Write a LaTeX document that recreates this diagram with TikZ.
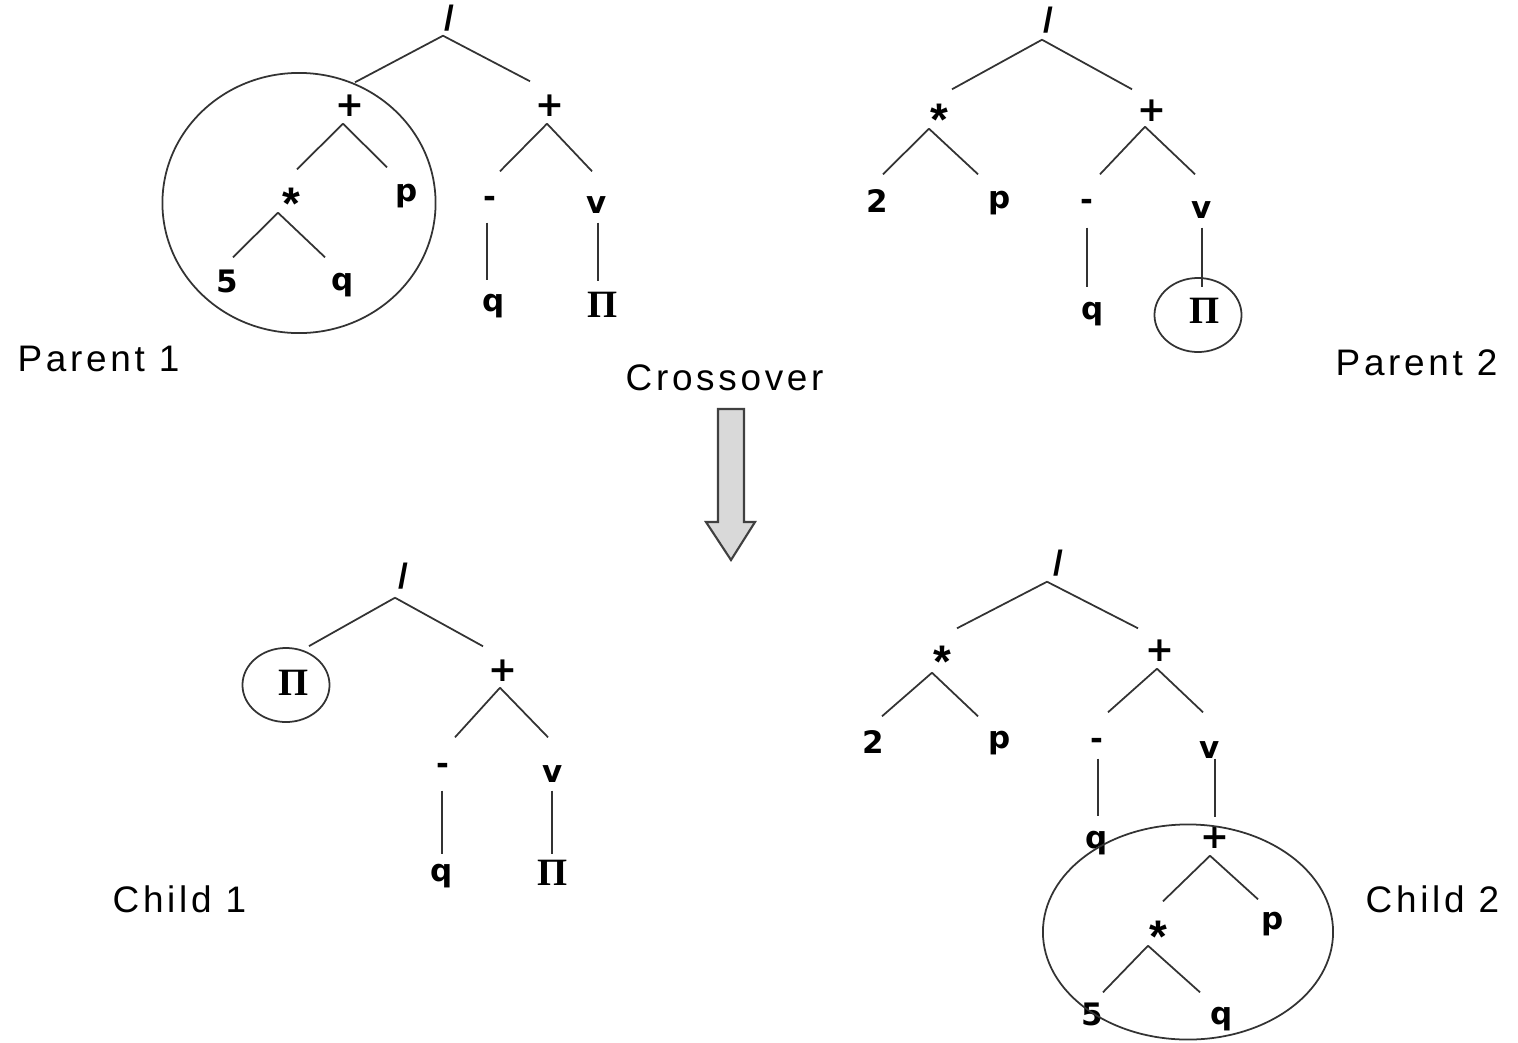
\documentclass[tikz,border=0pt]{standalone}
\usepackage{fontspec}
\setmainfont{Liberation Sans}
\newfontfamily\symfont{DejaVu Sans}
\newfontfamily\captionfont{Liberation Sans}[LetterSpace=10]
\newfontfamily\greekfont{Liberation Serif}
\usetikzlibrary{shapes.geometric}

\tikzset{
  sym/.style={anchor=base, inner xsep=0pt, inner ysep=0.03cm,
    text height=0.30cm, text depth=0.05cm,
    font=\fontsize{8.8}{10}\selectfont\symfont\bfseries},
  plussym/.style={sym, font=\fontsize{9.8}{10}\selectfont\symfont\bfseries},
  slashsym/.style={sym, font=\fontsize{10}{10}\selectfont\rmfamily\bfseries},
  pisym/.style={sym, font=\fontsize{11}{12}\selectfont\greekfont\bfseries},
  caption/.style={anchor=base west, inner sep=0pt,
    font=\fontsize{10.5}{12}\selectfont\captionfont},
  ring/.style={draw=black!80, line width=0.5pt, ellipse, inner sep=0pt},
  branch/.style={draw=black!80, line width=0.5pt},
  bigarrow/.style={draw=black!75, line width=0.6pt, fill=black!15},
}

% a large heavy asterisk, lowered so that it sits like the other symbols
\newcommand\starsym{\raisebox{-0.09cm}{\fontsize{13}{13}\selectfont\rmfamily\bfseries *}}

% branch from the foot of a parent symbol to the top of a child symbol,
% each end nudged by a shift given in pixel units
\newcommand\treelink[4]{\draw[branch] ([shift={#2}]#1.south) -- ([shift={#4}]#3.north);}

\begin{document}
\begin{tikzpicture}[x=0.01cm, y=-0.01cm]
\useasboundingbox (0,0) rectangle (1518,1042);

% ---------------- Parent 1 ----------------
\node[slashsym] (p1root) at (449,30) {/};
\node[plussym] (p1a) at (350,116) {+};
\node[plussym] (p1b) at (550,116) {+};
\node[sym] (p1c) at (291,210) {\starsym};
\node[sym] (p1d) at (407,201) {p};
\node[sym] (p1e) at (227,292) {5};
\node[sym] (p1f) at (343,290) {q};
\node[sym] (p1g) at (490,207) {-};
\node[sym] (p1h) at (597,213) {v};
\node[sym] (p1i) at (494,311) {q};
\node[pisym] (p1j) at (603,317) {Π};
\node[ring, minimum width=2.73cm, minimum height=2.60cm] (p1ring) at (299,203) {};

\treelink{p1root}{(-6,-3)}{p1a}{(5,0)}
\treelink{p1root}{(-6,-3)}{p1b}{(-20,-1)}
\treelink{p1a}{(-7,-1)}{p1c}{(6,-7)}
\treelink{p1a}{(-7,-1)}{p1d}{(-20,0)}
\treelink{p1c}{(-13,-6)}{p1e}{(6,-1)}
\treelink{p1c}{(-13,-6)}{p1f}{(-18,1)}
\treelink{p1b}{(-3,-1)}{p1g}{(10,-2)}
\treelink{p1b}{(-3,-1)}{p1h}{(-5,-8)}
\treelink{p1g}{(-3,7)}{p1i}{(-7,3)}
\treelink{p1h}{(1,1)}{p1j}{(-5,-2)}

\node[caption] (lp1) at (17,371) {Parent 1};

% ---------------- Parent 2 ----------------
\node[slashsym] (p2root) at (1048,32) {/};
\node[sym] (p2a) at (939,126) {\starsym};
\node[plussym] (p2b) at (1152,121) {+};
\node[sym] (p2c) at (877,212) {2};
\node[sym] (p2d) at (1000,208) {p};
\node[sym] (p2e) at (1087,210) {-};
\node[sym] (p2f) at (1202,218) {v};
\node[sym] (p2g) at (1093,319) {q};
\node[pisym] (p2h) at (1205,323) {Π};
\node[ring, minimum width=0.87cm, minimum height=0.74cm] (p2ring) at (1198,315) {};

\treelink{p2root}{(-6,-1)}{p2a}{(13,-3)}
\treelink{p2root}{(-6,-1)}{p2b}{(-20,2)}
\treelink{p2a}{(-10,-6)}{p2c}{(6,-4)}
\treelink{p2a}{(-10,-6)}{p2d}{(-22,0)}
\treelink{p2b}{(-7,-3)}{p2e}{(13,-2)}
\treelink{p2b}{(-7,-3)}{p2f}{(-7,-10)}
\treelink{p2e}{(0,9)}{p2g}{(-6,2)}
\treelink{p2f}{(0,1)}{p2h}{(-3,-2)}

\node[caption] (lp2) at (1335,375) {Parent 2};

% ---------------- crossover arrow ----------------
\node[caption] (lx) at (625,390) {Crossover};
\draw[bigarrow] (718,409) -- (744,409) -- (744,522) -- (755,522)
  -- (731,560) -- (706,522) -- (718,522) -- cycle;

% ---------------- Child 1 ----------------
\node[slashsym] (c1root) at (403,588) {/};
\node[ring, minimum width=0.87cm, minimum height=0.74cm] (c1ring) at (286,685) {};
\node[pisym] (c1pi) at (294,695) {Π};
\node[plussym] (c1b) at (503,681) {+};
\node[sym] (c1c) at (443,774) {-};
\node[sym] (c1d) at (553,782) {v};
\node[sym] (c1e) at (442,881) {q};
\node[pisym] (c1f) at (553,885) {Π};

\draw[branch] ([shift={(-8,1)}]c1root.south) -- ([shift={(23,-1)}]c1ring.north);
\treelink{c1root}{(-8,1)}{c1b}{(-20,-1)}
\treelink{c1b}{(-3,-2)}{c1c}{(12,-3)}
\treelink{c1b}{(-3,-2)}{c1d}{(-5,-11)}
\treelink{c1c}{(-1,8)}{c1e}{(0,7)}
\treelink{c1d}{(-1,0)}{c1f}{(-1,3)}

\node[caption] (lc1) at (112,912) {Child 1};

% ---------------- Child 2 ----------------
\node[slashsym] (c2root) at (1058,575) {/};
\node[sym] (c2a) at (942,668) {\starsym};
\node[plussym] (c2b) at (1160,661) {+};
\node[sym] (c2c) at (873,753) {2};
\node[sym] (c2d) at (1000,748) {p};
\node[sym] (c2e) at (1097,749) {-};
\node[sym] (c2f) at (1210,758) {v};
\node[sym] (c2g) at (1097,848) {q};
\node[plussym] (c2h) at (1215,848) {+};
\node[sym] (c2i) at (1158,943) {\starsym};
\node[sym] (c2j) at (1273,929) {p};
\node[sym] (c2k) at (1092,1025) {5};
\node[sym] (c2l) at (1222,1024) {q};
\node[ring, minimum width=2.90cm, minimum height=2.15cm] (c2ring) at (1188,932) {};

\treelink{c2root}{(-11,-2)}{c2a}{(15,-6)}
\treelink{c2root}{(-11,-2)}{c2b}{(-22,1)}
\treelink{c2a}{(-10,-4)}{c2c}{(9,-3)}
\treelink{c2a}{(-10,-4)}{c2d}{(-22,2)}
\treelink{c2b}{(-3,-1)}{c2e}{(11,-3)}
\treelink{c2b}{(-3,-1)}{c2f}{(-7,-12)}
\treelink{c2e}{(1,1)}{c2g}{(1,2)}
\treelink{c2f}{(5,-8)}{c2h}{(0,3)}
\treelink{c2h}{(-5,-1)}{c2i}{(5,-8)}
\treelink{c2h}{(-5,-1)}{c2j}{(-15,4)}
\treelink{c2i}{(-10,-6)}{c2k}{(11,1)}
\treelink{c2i}{(-10,-6)}{c2l}{(-22,2)}

\node[caption] (lc2) at (1365,912) {Child 2};
\end{tikzpicture}
\end{document}
